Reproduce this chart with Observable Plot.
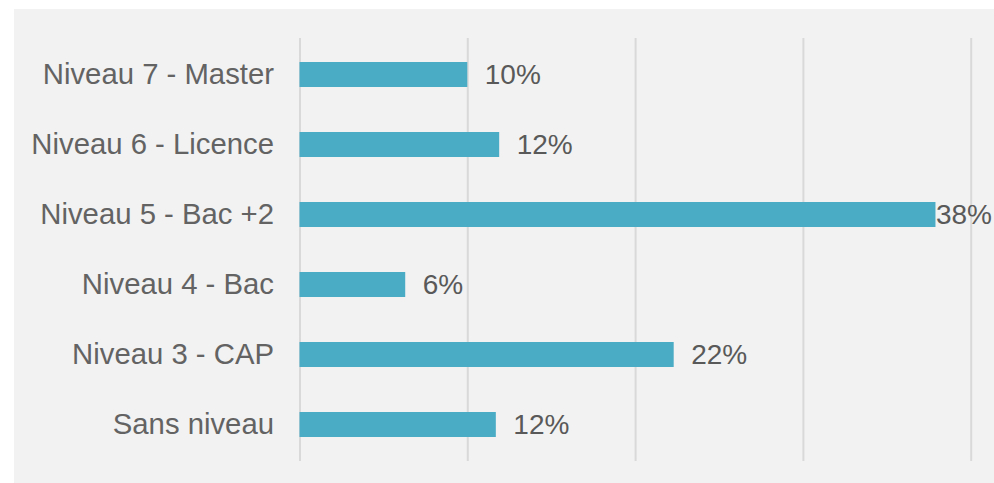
<!DOCTYPE html>
<html>
<head>
<meta charset="utf-8">
<script src="https://cdn.jsdelivr.net/npm/d3@7"></script>
<script src="https://cdn.jsdelivr.net/npm/@observablehq/plot@0.6"></script>
<style>
  html, body { margin: 0; padding: 0; background: #ffffff; }
  #panel { position: absolute; left: 14px; top: 9px; width: 980px; height: 474px; background: #f2f2f2; }
  #panel svg { overflow: visible; background: transparent; }
</style>
</head>
<body>
<div id="panel"></div>
<script>
const categories = ["Niveau 7 - Master", "Niveau 6 - Licence", "Niveau 5 - Bac +2", "Niveau 4 - Bac", "Niveau 3 - CAP", "Sans niveau"];
const values = [10.0, 11.9, 37.9, 6.3, 22.3, 11.7];
const valueLabels = ["10%", "12%", "38%", "6%", "22%", "12%"];
const gridTicks = [0, 10, 20, 30, 40];

const data = categories.map((c, i) => ({ category: c, value: values[i], label: valueLabels[i] }));

const chart = Plot.plot({
  width: 980,
  height: 474,
  marginLeft: 285.5,
  marginRight: 23.3,
  marginTop: 29,
  marginBottom: 22,
  style: { fontFamily: "'Liberation Sans', Arial, sans-serif", background: "transparent" },
  x: { domain: [0, 40], axis: null },
  y: { domain: categories, paddingInner: 0.65, paddingOuter: 0.325, label: null },
  marks: [
    Plot.ruleX(gridTicks, { stroke: "#d9d9d9", strokeWidth: 2 }),
    Plot.barX(data, { x: "value", y: "category", fill: "#4bacc6" }),
    Plot.axisY({ tickSize: 0, tickPadding: 26, fontSize: 29.3, color: "#636363", label: null }),
    Plot.text(data.filter(d => d.value < 35), { x: "value", y: "category", text: "label", textAnchor: "start", dx: 17, fontSize: 28, fill: "#595959" }),
    Plot.text(data.filter(d => d.value >= 35), { x: "value", y: "category", text: "label", textAnchor: "start", dx: 0, fontSize: 28, fill: "#595959" })
  ]
});
document.getElementById("panel").appendChild(chart);
</script>
</body>
</html>
